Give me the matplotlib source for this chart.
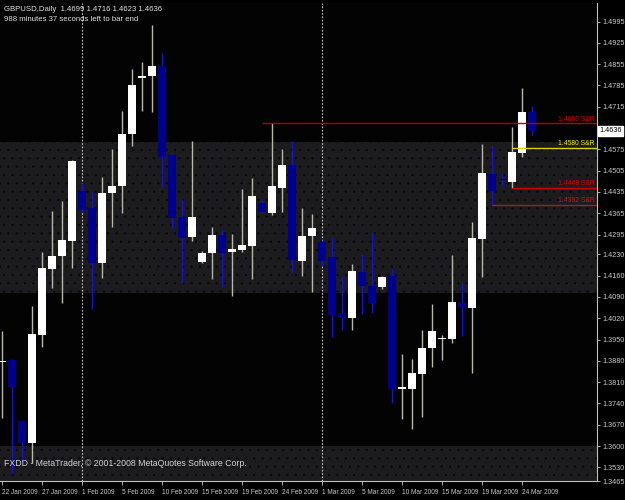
# GBPUSD daily candles, MetaTrader look
import matplotlib
matplotlib.use('Agg')
import matplotlib.pyplot as plt
import numpy as np

# bar dates (broker feed has Sunday bars)
dates = ['22 Jan', '23 Jan', '25 Jan', '26 Jan', '27 Jan', '28 Jan', '29 Jan', '30 Jan',
         '1 Feb', '2 Feb', '3 Feb', '4 Feb', '5 Feb', '6 Feb', '8 Feb', '9 Feb',
         '10 Feb', '11 Feb', '12 Feb', '13 Feb', '15 Feb', '16 Feb', '17 Feb', '18 Feb',
         '19 Feb', '20 Feb', '22 Feb', '23 Feb', '24 Feb', '25 Feb', '26 Feb', '27 Feb',
         '1 Mar', '2 Mar', '3 Mar', '4 Mar', '5 Mar', '6 Mar', '8 Mar', '9 Mar',
         '10 Mar', '11 Mar', '12 Mar', '13 Mar', '15 Mar', '16 Mar', '17 Mar', '18 Mar',
         '19 Mar', '20 Mar', '22 Mar', '23 Mar', '24 Mar', '25 Mar']

opens = [1.3875, 1.3883, 1.3682, 1.3611, 1.3965, 1.4183, 1.4224, 1.4274,
         1.4438, 1.4383, 1.4203, 1.4431, 1.4453, 1.4625, 1.4808, 1.4816,
         1.4850, 1.4557, 1.4352, 1.4288, 1.4206, 1.4234, 1.4294, 1.4236,
         1.4244, 1.4257, 1.4400, 1.4365, 1.4449, 1.4522, 1.4209, 1.4290,
         1.4270, 1.4220, 1.4036, 1.4022, 1.4173, 1.4126, 1.4124, 1.4159,
         1.3789, 1.3786, 1.3837, 1.3921, 1.3951, 1.3952, 1.4069, 1.4055,
         1.4280, 1.4494, 1.4478, 1.4467, 1.4562, 1.4699]
highs = [1.3979, 1.3885, 1.3684, 1.4061, 1.4237, 1.4373, 1.4405, 1.4540,
         1.4465, 1.4436, 1.4483, 1.4575, 1.4701, 1.4840, 1.4862, 1.4984,
         1.4893, 1.4562, 1.4411, 1.4604, 1.4241, 1.4319, 1.4312, 1.4297,
         1.4445, 1.4480, 1.4409, 1.4660, 1.4575, 1.4604, 1.4382, 1.4364,
         1.4277, 1.4286, 1.4155, 1.4197, 1.4231, 1.4299, 1.4159, 1.4181,
         1.3902, 1.3886, 1.3981, 1.4067, 1.3965, 1.4228, 1.4137, 1.4337,
         1.4593, 1.4586, 1.4497, 1.4648, 1.4776, 1.4716]
lows = [1.3691, 1.3510, 1.3548, 1.3545, 1.3926, 1.4120, 1.4071, 1.4186,
        1.4370, 1.4049, 1.4151, 1.4321, 1.4365, 1.4586, 1.4701, 1.4699,
        1.4452, 1.4312, 1.4135, 1.4274, 1.4203, 1.4148, 1.4124, 1.4093,
        1.4239, 1.4149, 1.4365, 1.4359, 1.4370, 1.4173, 1.4159, 1.4107,
        1.4192, 1.3957, 1.3981, 1.3981, 1.4034, 1.4038, 1.4115, 1.3740,
        1.3688, 1.3655, 1.3696, 1.3861, 1.3883, 1.3940, 1.3963, 1.3841,
        1.4155, 1.4392, 1.4455, 1.4448, 1.4551, 1.4623]
closes = [1.3878, 1.3795, 1.3609, 1.3967, 1.4186, 1.4226, 1.4277, 1.4538,
          1.4376, 1.4203, 1.4433, 1.4456, 1.4626, 1.4785, 1.4816, 1.4850,
          1.4551, 1.4351, 1.4285, 1.4354, 1.4234, 1.4294, 1.4234, 1.4247,
          1.4261, 1.4423, 1.4368, 1.4453, 1.4524, 1.4212, 1.4290, 1.4315,
          1.4208, 1.4031, 1.4022, 1.4175, 1.4126, 1.4071, 1.4155, 1.3786,
          1.3791, 1.3839, 1.3921, 1.3978, 1.3953, 1.4074, 1.4058, 1.4283,
          1.4497, 1.4438, 1.4475, 1.4566, 1.4699, 1.4636]

# support / resistance lines: level, first bar, colour
sr_levels = [1.4660, 1.4580, 1.4448, 1.4392]
sr_start = [26, 51, 51, 49]
sr_colors = ['#b00000', '#d8d800', '#d00000', '#8a2a2a']
sr_textcol = ['#d00000', '#e8e800', '#e00000', '#c02020']

# shaded zones (price bands)
zones = [(1.4103, 1.4600), (1.3400, 1.3600)]

# price axis labels
ytick_vals = [1.4995, 1.4925, 1.4855, 1.4785, 1.4715, 1.4575, 1.4505, 1.4435,
              1.4365, 1.4295, 1.4230, 1.4160, 1.4090, 1.4020, 1.3950, 1.3880, 1.3810,
              1.3740, 1.3670, 1.3600, 1.3530]
ymin, ymax = 1.3485, 1.5056
last_price = 1.4636

# period separators (first bar of month)
separators = [8, 32]

bull_body = 'white'
bull_wick = '#b8b8a8'
bear_body = '#00008c'
bear_wick = '#1414c8'
fnt = 'Liberation Sans'

plt.rcParams['hatch.linewidth'] = 0.4
plt.rcParams['hatch.color'] = '#000000'

fig = plt.figure(figsize=(6.25, 5), dpi=100, facecolor='black')
ax = fig.add_axes([0, 0.038, 597 / 625, 0.956])
ax.set_facecolor('#030303')

x = np.arange(len(opens))
o = np.array(opens); h = np.array(highs); l = np.array(lows); c = np.array(closes)
up = c >= o

# zones
for lo, hi in zones:
    ax.axhspan(lo, hi, facecolor='#1c1c1e', edgecolor='#080808', hatch='..',
               linewidth=0, zorder=0)

# separators
for s in separators:
    ax.axvline(s, color='#c8c8c8', linestyle=(0, (1.5, 1.5)), linewidth=0.8, zorder=1)

# wicks
ax.vlines(x[up], l[up], h[up], color=bull_wick, linewidth=1, zorder=2)
ax.vlines(x[~up], l[~up], h[~up], color=bear_wick, linewidth=1, zorder=2)

# bodies
body = np.maximum(np.abs(c - o), 0.00035)
bottom = np.minimum(o, c)
ax.bar(x[up], body[up], bottom=bottom[up], width=0.72, color=bull_body,
       linewidth=0, zorder=3)
ax.bar(x[~up], body[~up], bottom=bottom[~up], width=0.72, color=bear_body,
       linewidth=0, zorder=3)

# S&R lines
for lev, st, col, tc in zip(sr_levels, sr_start, sr_colors, sr_textcol):
    ax.hlines(lev, st, 59.5, color=col, linewidth=1, zorder=4)
    ax.text(59.3, lev + 0.0003, '%.4f S&R' % lev, color=tc, fontsize=4.9,
            family=fnt, ha='right', va='bottom', zorder=5)

ax.set_xlim(-0.2, 59.5)
ax.set_ylim(ymin, ymax)

# axes
for sp in ['top', 'left']:
    ax.spines[sp].set_visible(False)
ax.spines['right'].set_color('#c0c0c0')
ax.spines['bottom'].set_color('#c0c0c0')
ax.spines['right'].set_linewidth(0.8)
ax.spines['bottom'].set_linewidth(0.8)

ax.yaxis.tick_right()
ax.set_yticks(ytick_vals + [ymin])
ax.set_yticklabels(['%.4f' % v for v in ytick_vals] + ['1.3465'])
ax.tick_params(axis='y', colors='#c8c8c8', labelsize=5.2, length=2, width=0.6, pad=2)

xt = list(range(0, len(dates), 4))
ax.set_xticks(xt)
ax.set_xticklabels([dates[i] + ' 2009' for i in xt], ha='left')
ax.tick_params(axis='x', colors='#c8c8c8', labelsize=4.7, length=3, width=0.6, pad=3)
for lab in ax.get_xticklabels() + ax.get_yticklabels():
    lab.set_family(fnt)

# current price box
ax.text(1.004, (last_price - ymin) / (ymax - ymin), '%.4f' % last_price,
        transform=ax.transAxes, color='black', fontsize=5.2, family=fnt,
        ha='left', va='center', zorder=10, clip_on=False,
        bbox=dict(boxstyle='square,pad=0.2', facecolor='white', edgecolor='white'))

# header and footer
fig.text(0.007, 0.988, 'GBPUSD,Daily  %.4f %.4f %.4f %.4f' % (opens[-1], highs[-1], lows[-1], closes[-1]),
         color='#e0e0e0', fontsize=5.6, family=fnt, va='top')
fig.text(0.007, 0.968, '988 minutes 37 seconds left to bar end',
         color='#e0e0e0', fontsize=5.6, family=fnt, va='top')
fig.text(0.007, 0.074, 'FXDD - MetaTrader, \u00a9 2001-2008 MetaQuotes Software Corp.',
         color='#d0d0d0', fontsize=6.3, family=fnt, va='center')

fig.savefig('out.png', dpi=100, facecolor='black')
